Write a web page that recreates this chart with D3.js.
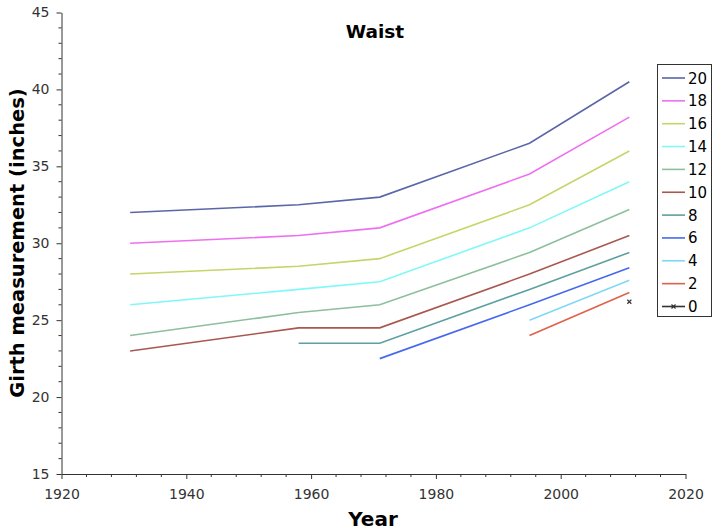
<!DOCTYPE html>
<html><head><meta charset="utf-8">
<script src="https://cdn.jsdelivr.net/npm/d3@7"></script>
<style>
body{margin:0;background:#fff;}
text{font-family:"DejaVu Sans",Verdana,sans-serif;}
</style></head>
<body><svg id="c" width="714" height="532"></svg>
<script>
const years = [1931, 1958, 1971, 1995, 2011];
const sizes = ["20","18","16","14","12","10","8","6","4","2","0"];
const s20 = [32, 32.5, 33, 36.5, 40.5];
const s18 = [30, 30.5, 31, 34.5, 38.2];
const s16 = [28, 28.5, 29, 32.5, 36];
const s14 = [26, 27, 27.5, 31, 34];
const s12 = [24, 25.5, 26, 29.4, 32.2];
const s10 = [23, 24.5, 24.5, 28, 30.5];
const s8  = [null, 23.5, 23.5, 27, 29.4];
const s6  = [null, null, 22.5, 26, 28.4];
const s4  = [null, null, null, 25, 27.6];
const s2  = [null, null, null, 24, 26.8];
const s0  = [null, null, null, null, 26.2];
const seriesValues = [s20, s18, s16, s14, s12, s10, s8, s6, s4, s2, s0];
const colors = ["#5b66a8","#ee70f0","#c8d46a","#80f8f8","#8dbf9d","#a8584f","#5e9fa0","#4668ee","#80d8f5","#e0614b","#333333"];
const xTicks = [1920, 1940, 1960, 1980, 2000, 2020];
const yTicks = [15, 20, 25, 30, 35, 40, 45];

const svg = d3.select("#c");
const x = d3.scaleLinear().domain([1920, 2020]).range([61.5, 685.5]);
const y = d3.scaleLinear().domain([15, 45]).range([474, 12.5]);

// minor ticks
const yMinor = d3.range(15, 46, 1).filter(v => v % 5 !== 0);
svg.append("g").selectAll("line").data(yMinor).join("line")
  .attr("x1", x(1920) - 3).attr("x2", x(1920))
  .attr("y1", d => y(d)).attr("y2", d => y(d))
  .attr("stroke", "#333").attr("stroke-width", 1);
const xMinor = d3.range(1920, 2021, 4).filter(v => v % 20 !== 0);
svg.append("g").selectAll("line").data(xMinor).join("line")
  .attr("x1", d => x(d)).attr("x2", d => x(d))
  .attr("y1", y(15)).attr("y2", y(15) + 3)
  .attr("stroke", "#333").attr("stroke-width", 1);

const xAxis = svg.append("g").attr("transform", `translate(0,${y(15)})`)
  .call(d3.axisBottom(x).tickValues(xTicks).tickFormat(d3.format("d")).tickSize(5).tickSizeOuter(0));
const yAxis = svg.append("g").attr("transform", `translate(${x(1920)},0)`)
  .call(d3.axisLeft(y).tickValues(yTicks).tickSize(5).tickSizeOuter(0));
[xAxis, yAxis].forEach(a => {
  a.select(".domain").attr("stroke", "#333");
  a.selectAll(".tick line").attr("stroke", "#333");
  a.selectAll(".tick text").attr("fill", "#333").style("font-size", "14px").style("font-family", "'DejaVu Sans',Verdana,sans-serif");
});
xAxis.selectAll(".tick text").attr("dy", "1.2em");
yAxis.selectAll(".tick text").attr("x", -12);

// lines
const line = d3.line().defined(d => d.v !== null).x(d => x(d.yr)).y(d => y(d.v));
seriesValues.forEach((vals, i) => {
  const pts = vals.map((v, j) => ({yr: years[j], v: v}));
  if (sizes[i] === "0") {
    const p = pts.filter(d => d.v !== null);
    p.forEach(d => {
      const cx = x(d.yr), cy = y(d.v);
      svg.append("path").attr("d", `M${cx-2},${cy-2}L${cx+2},${cy+2}M${cx-2},${cy+2}L${cx+2},${cy-2}`)
        .attr("stroke", colors[i]).attr("stroke-width", 1.2).attr("fill", "none");
    });
  } else {
    svg.append("path").datum(pts).attr("d", line)
      .attr("fill", "none").attr("stroke", colors[i]).attr("stroke-width", 1.6);
  }
});

// titles
svg.append("text").attr("x", 375).attr("y", 38).attr("text-anchor", "middle")
  .style("font-size", "18.5px").style("font-weight", "bold").attr("fill", "#000").text("Waist");
svg.append("text").attr("x", 373).attr("y", 526).attr("text-anchor", "middle")
  .style("font-size", "20px").style("font-weight", "bold").attr("fill", "#000").text("Year");
svg.append("text").attr("transform", "translate(24,243) rotate(-90)").attr("text-anchor", "middle")
  .style("font-size", "19.5px").style("font-weight", "bold").attr("fill", "#000").text("Girth measurement (inches)");

// legend
const lg = svg.append("g");
lg.append("rect").attr("x", 657.5).attr("y", 64.5).attr("width", 54).attr("height", 252)
  .attr("fill", "#fff").attr("stroke", "#333").attr("stroke-width", 1);
sizes.forEach((s, i) => {
  const ly = 78 + i * 22.85;
  lg.append("line").attr("x1", 662).attr("x2", 685).attr("y1", ly).attr("y2", ly)
    .attr("stroke", colors[i]).attr("stroke-width", 1.6);
  if (s === "0") {
    lg.append("path").attr("d", `M671.5,${ly-2}L675.5,${ly+2}M671.5,${ly+2}L675.5,${ly-2}`)
      .attr("stroke", colors[i]).attr("stroke-width", 1.2);
  }
  lg.append("text").attr("x", 688).attr("y", ly + 5.5).style("font-size", "15px")
    .attr("fill", "#000").text(s);
});
</script></body></html>
